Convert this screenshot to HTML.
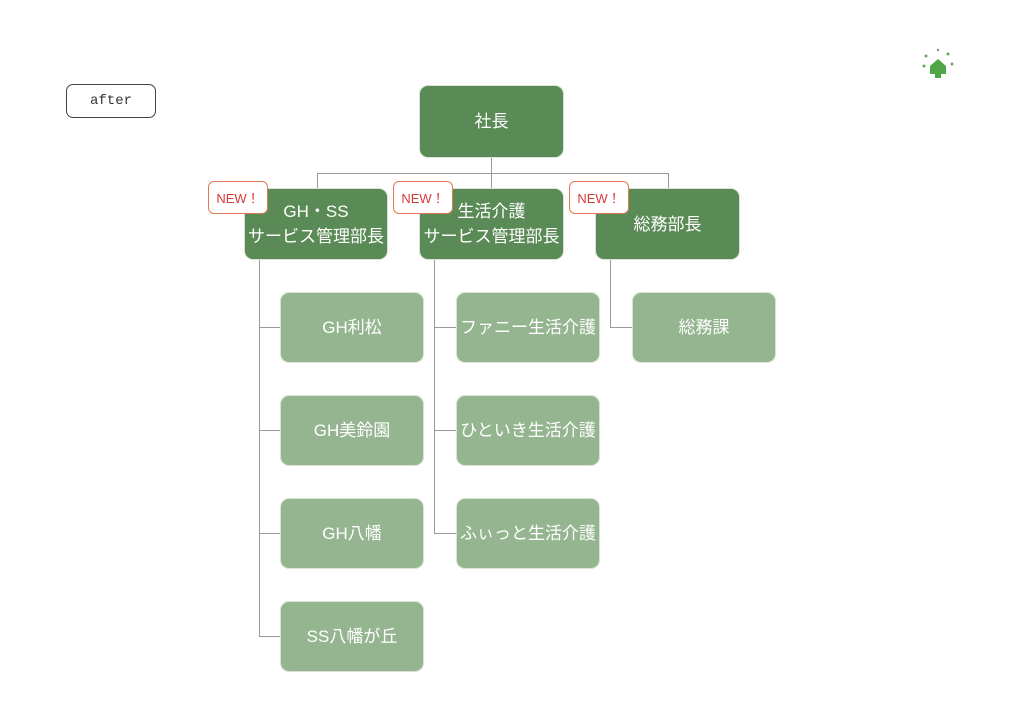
<!DOCTYPE html>
<html><head><meta charset="utf-8"><style>
body{margin:0;width:1024px;height:713px;background:#fff;position:relative;overflow:hidden;font-family:"Liberation Sans","Noto Sans CJK JP",sans-serif}
.b{position:absolute;display:flex;align-items:center;justify-content:center;text-align:center;color:#fff;font-size:17px;line-height:25px;border-radius:9px;box-sizing:border-box;border:1px solid #d8e4d4;white-space:nowrap}
.d{background:#5a8a55}
.l{background:#94b58f}
.n{position:absolute;width:60px;height:33px;background:#fff;border:1px solid #e07a55;border-radius:6px;color:#d8383a;font-size:13px;display:flex;align-items:center;justify-content:center;box-sizing:border-box}
.ln{position:absolute;background:#999}
</style></head><body>
<div style="position:absolute;left:66px;top:84px;width:90px;height:34px;border:1.5px solid #444;border-radius:7px;box-sizing:border-box;display:flex;align-items:center;justify-content:center;font-size:14px;color:#333;font-family:'Liberation Mono',monospace">after</div>
<svg style="position:absolute;left:918px;top:46px" width="40" height="36"><g fill="#6aa860"><circle cx="8" cy="10" r="1.5"/><circle cx="30" cy="8" r="1.5"/><circle cx="34" cy="18" r="1.5"/><circle cx="6" cy="20" r="1.5"/><circle cx="20" cy="4" r="1.2"/></g><path d="M12 20 L20 13 L28 20 V28 H12Z" fill="#4ea646"/><rect x="17" y="28" width="6" height="4" fill="#4ea646"/></svg>
<div class="ln" style="left:491px;top:158px;width:1px;height:30px"></div>
<div class="ln" style="left:317px;top:173px;width:352px;height:1px"></div>
<div class="ln" style="left:317px;top:173px;width:1px;height:15px"></div>
<div class="ln" style="left:668px;top:173px;width:1px;height:15px"></div>
<div class="ln" style="left:259px;top:260px;width:1px;height:377px"></div>
<div class="ln" style="left:259px;top:327px;width:21px;height:1px"></div>
<div class="ln" style="left:259px;top:430px;width:21px;height:1px"></div>
<div class="ln" style="left:259px;top:533px;width:21px;height:1px"></div>
<div class="ln" style="left:259px;top:636px;width:21px;height:1px"></div>
<div class="ln" style="left:434px;top:260px;width:1px;height:274px"></div>
<div class="ln" style="left:434px;top:327px;width:22px;height:1px"></div>
<div class="ln" style="left:434px;top:430px;width:22px;height:1px"></div>
<div class="ln" style="left:434px;top:533px;width:22px;height:1px"></div>
<div class="ln" style="left:610px;top:260px;width:1px;height:68px"></div>
<div class="ln" style="left:610px;top:327px;width:22px;height:1px"></div>
<div class="b d" style="left:419px;top:85px;width:145px;height:73px">社長</div>
<div class="b d" style="left:244px;top:188px;width:144px;height:72px">GH・SS<br>サービス管理部長</div>
<div class="b d" style="left:419px;top:188px;width:145px;height:72px">生活介護<br>サービス管理部長</div>
<div class="b d" style="left:595px;top:188px;width:145px;height:72px">総務部長</div>
<div class="n" style="left:208px;top:181px">NEW！</div>
<div class="n" style="left:393px;top:181px">NEW！</div>
<div class="n" style="left:569px;top:181px">NEW！</div>
<div class="b l" style="left:280px;top:292px;width:144px;height:71px">GH利松</div>
<div class="b l" style="left:280px;top:395px;width:144px;height:71px">GH美鈴園</div>
<div class="b l" style="left:280px;top:498px;width:144px;height:71px">GH八幡</div>
<div class="b l" style="left:280px;top:601px;width:144px;height:71px">SS八幡が丘</div>
<div class="b l" style="left:456px;top:292px;width:144px;height:71px">ファニー生活介護</div>
<div class="b l" style="left:456px;top:395px;width:144px;height:71px">ひといき生活介護</div>
<div class="b l" style="left:456px;top:498px;width:144px;height:71px">ふぃっと生活介護</div>
<div class="b l" style="left:632px;top:292px;width:144px;height:71px">総務課</div>
</body></html>
